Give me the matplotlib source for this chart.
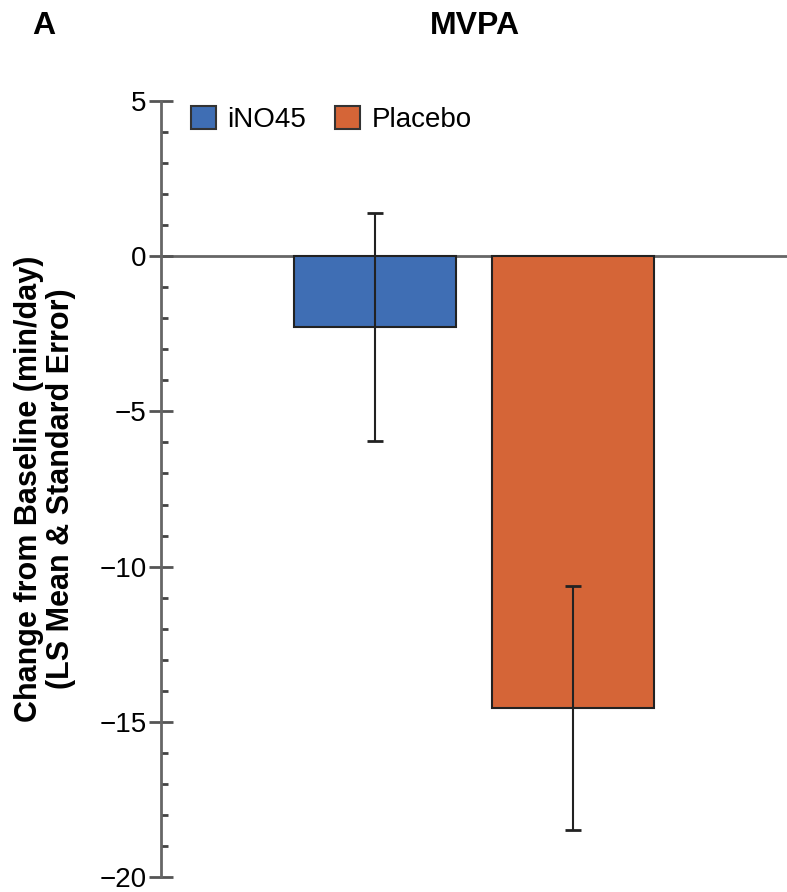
import matplotlib
matplotlib.use("Agg")
import matplotlib.pyplot as plt
from matplotlib.patches import Patch
from matplotlib.ticker import MultipleLocator

groups = ["iNO45", "Placebo"]
ls_mean = [-2.29, -14.56]
std_err = [3.67, 3.93]
colors = ["#3F6EB4", "#D56537"]
yticks = [5, 0, -5, -10, -15, -20]

plt.rcParams["font.family"] = ["Liberation Sans", "DejaVu Sans"]

fig = plt.figure(figsize=(7.87, 8.92), dpi=100)
ax = fig.add_axes([161 / 787, 1 - 877 / 892, 626 / 787, 776 / 892])

x = [0, 1]
ax.bar(x, ls_mean, width=0.818, color=colors, edgecolor="#222222", linewidth=1.5, zorder=2)
ax.errorbar(x, ls_mean, yerr=std_err, fmt="none", ecolor="#222222",
            elinewidth=1.5, capsize=6, capthick=2, zorder=3)
ax.axhline(0, color="#666666", linewidth=2, zorder=1)

ax.set_xlim(-1.081, 2.081)
ax.set_ylim(-20, 5)
ax.set_yticks(yticks)
ax.set_yticklabels([f"\u2212{abs(t)}" if t < 0 else str(t) for t in yticks], fontsize=20)
ax.yaxis.set_minor_locator(MultipleLocator(1))
ax.tick_params(axis="y", which="major", direction="inout", length=17, width=2,
               color="#555555", pad=2)
ax.tick_params(axis="y", which="minor", direction="in", length=5, width=2, color="#444444")
ax.set_xticks([])

for side in ["top", "right", "bottom"]:
    ax.spines[side].set_visible(False)
ax.spines["left"].set_color("#666666")
ax.spines["left"].set_linewidth(2)

fig.text(45 / 787, 1 - 489 / 892,
         "Change from Baseline (min/day)\n(LS Mean & Standard Error)",
         fontsize=22, fontweight="bold", rotation=90, ha="center", va="center",
         multialignment="center", linespacing=1.1)

handles = [Patch(facecolor=c, edgecolor="#333333", linewidth=1.5) for c in colors]
ax.legend(handles, groups, loc="upper left", bbox_to_anchor=(0.008, 1.026), ncol=2,
          frameon=False, fontsize=20, handlelength=0.9, handleheight=0.9,
          handletextpad=0.4, columnspacing=1.05)

fig.text(475 / 787, 1 - 26 / 892, "MVPA", fontsize=23, fontweight="bold",
         ha="center", va="center")
fig.text(44 / 787, 1 - 26 / 892, "A", fontsize=23, fontweight="bold",
         ha="center", va="center")

fig.savefig("out.png", dpi=100)
